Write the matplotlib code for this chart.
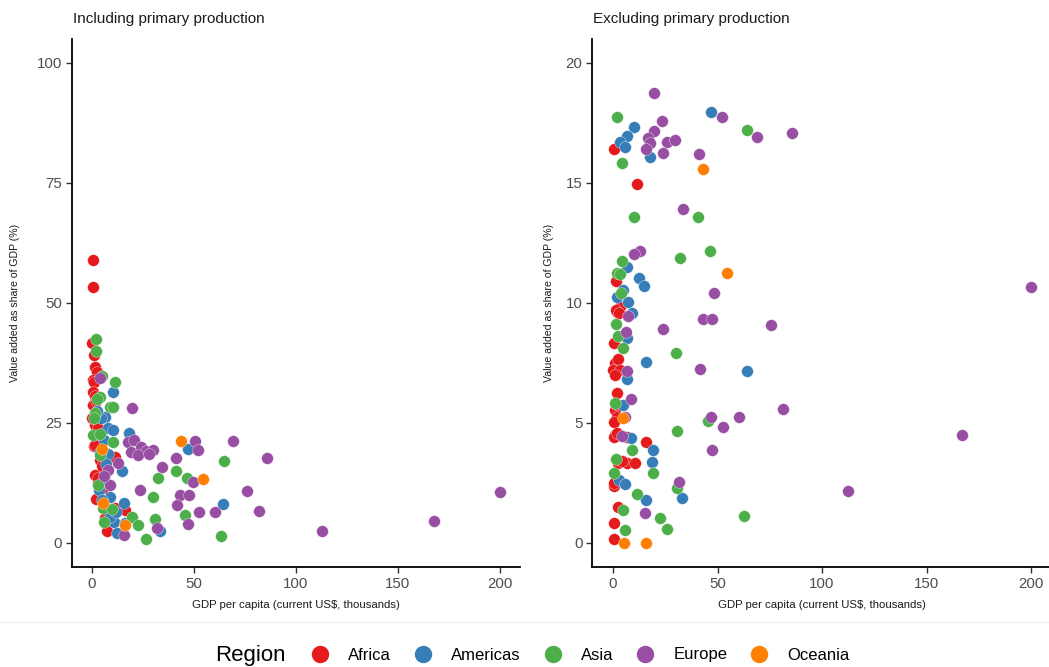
import matplotlib
matplotlib.use("Agg")
import matplotlib.pyplot as plt
from matplotlib.lines import Line2D

plt.rcParams['font.family'] = ['Liberation Sans', 'DejaVu Sans']

regions = ["Africa", "Americas", "Asia", "Europe", "Oceania"]
colors = {"Africa": "#E41A1C", "Americas": "#377EB8", "Asia": "#4DAF4A",
          "Europe": "#984EA3", "Oceania": "#FF7F00"}

# ---- Panel 1: including primary production ----
afr_x1 = [0.6, 0.6, -0.2, 1.1, 1.5, 2.3, 0.6, 1.1, 0.6, 1.5, 0.6, 2.3, 1.5, 3.0, 1.0, 3.9,
          1.5, 3.9, 11.3, 1.5, 2.8, 5.5, 1.8, 7.2, 7.5, 11.3, 16.2, 6.4, 0.2, 4.8, 2.0, 3.0]
afr_y1 = [59.0, 53.3, 41.6, 39.2, 36.6, 35.7, 34.0, 33.6, 31.5, 30.6, 28.7, 25.3, 24.6, 24.0, 20.3, 20.1,
          20.4, 17.3, 18.0, 14.2, 12.8, 11.4, 9.1, 5.5, 2.5, 7.2, 6.9, 5.2, 26.0, 16.0, 29.5, 13.5]
ame_x1 = [10.4, 6.4, 8.0, 10.4, 18.1, 46.9, 8.0, 14.6, 5.9, 8.8, 15.8, 64.4, 10.8, 12.1, 16.2,
          33.3, 4.5, 6.0, 7.0, 9.0, 3.5, 2.5, 5.0, 12.0, 4.0]
ame_y1 = [31.4, 26.3, 23.9, 23.5, 23.0, 19.5, 18.5, 14.9, 13.1, 9.6, 8.3, 8.1, 4.4, 2.0, 4.1,
          2.4, 26.0, 21.5, 16.5, 5.5, 11.0, 27.5, 9.0, 6.5, 19.0]
asi_x1 = [2.0, 1.8, 4.8, 11.3, 3.9, 8.8, 10.4, 1.5, 0.6, 3.9, 10.4, 4.0, 64.7, 41.2, 32.2, 46.4,
          30.0, 5.5, 9.7, 30.9, 45.6, 19.8, 22.7, 6.0, 26.3, 63.2, 2.5, 1.0, 3.0]
asi_y1 = [42.4, 39.9, 34.7, 33.6, 30.5, 28.4, 28.4, 27.0, 22.5, 22.8, 21.1, 18.3, 17.1, 14.9, 13.5, 13.5,
          9.65, 7.2, 7.0, 5.1, 5.8, 5.5, 3.75, 4.4, 0.8, 1.5, 30.0, 26.0, 12.0]
eur_x1 = [3.9, 19.8, 17.6, 20.5, 19.0, 24.0, 26.5, 30.0, 22.5, 28.0, 50.5, 69.3, 52.1, 85.6, 41.2,
          34.2, 12.9, 8.0, 49.3, 8.8, 23.5, 43.1, 47.5, 76.1, 41.5, 52.5, 60.3, 82.0, 47.2, 31.7,
          15.8, 112.7, 167.6, 200.0, 6.0]
eur_y1 = [34.4, 28.1, 21.0, 21.4, 19.0, 20.0, 19.2, 19.4, 18.3, 18.5, 21.25, 21.3, 19.4, 17.8, 17.8,
          15.9, 16.6, 15.2, 12.8, 12.1, 11.0, 10.0, 10.1, 10.9, 7.9, 6.4, 6.5, 6.6, 4.0, 3.1,
          1.7, 2.5, 4.6, 10.6, 14.0]
oce_x1 = [43.6, 54.5, 5.0, 5.5, 16.2]
oce_y1 = [21.3, 13.3, 19.6, 8.3, 3.8]

# ---- Panel 2: excluding primary production ----
afr_x2 = [0.5, 11.3, 1.3, 1.8, 3.3, 0.5, 1.0, 2.5, 0.2, 3.3, 1.8, 1.0, 1.8, 0.6, 1.0, 6.5,
          15.8, 2.5, 6.5, 10.5, 4.3, 0.5, 2.5, 0.5, 0.6, 1.5, 0.3, 0.8, 2.0, 1.2, 2.8, 0.5]
afr_y2 = [16.42, 14.95, 10.92, 9.64, 9.85, 8.35, 7.51, 7.67, 7.21, 7.2, 6.24, 5.54, 5.27, 5.06, 4.5, 4.43,
          4.22, 3.32, 3.32, 3.32, 3.4, 2.39, 1.49, 0.82, 0.15, 9.7, 4.4, 7.0, 4.6, 5.8, 9.6, 2.5]
ame_x2 = [46.7, 10.0, 6.5, 3.3, 5.7, 17.7, 6.5, 12.6, 14.8, 4.9, 2.1, 7.3, 8.9, 6.5, 15.8, 64.3,
          6.5, 4.9, 8.5, 19.3, 18.5, 3.0, 5.7, 32.9, 15.8]
ame_y2 = [17.95, 17.35, 16.96, 16.72, 16.49, 16.07, 11.49, 11.03, 10.72, 10.54, 10.26, 10.05, 9.57, 8.53,
          7.53, 7.15, 6.83, 5.75, 4.36, 3.88, 3.39, 2.62, 2.44, 1.86, 1.79]
asi_x2 = [2.1, 64.3, 4.5, 10.2, 40.8, 46.4, 32.1, 4.5, 1.8, 3.3, 3.8, 1.4, 2.5, 4.9, 30.0, 1.0,
          45.6, 30.5, 8.9, 1.4, 0.5, 19.3, 30.8, 11.3, 4.9, 62.8, 22.5, 5.7, 26.0]
asi_y2 = [17.76, 17.2, 15.82, 13.6, 13.6, 12.18, 11.86, 11.74, 11.24, 11.2, 10.4, 9.11, 8.63, 8.14, 7.9,
          5.85, 5.1, 4.67, 3.88, 3.49, 2.93, 2.9, 2.31, 2.03, 1.38, 1.13, 1.03, 0.54, 0.57]
eur_x2 = [19.6, 52.3, 23.6, 19.6, 85.8, 69.0, 16.9, 17.7, 25.7, 29.7, 15.8, 24.1, 41.1, 33.6, 12.9,
          10.0, 48.5, 200.0, 75.6, 7.3, 42.9, 47.2, 23.8, 6.2, 6.5, 41.6, 8.6, 5.7, 46.7, 60.3,
          52.5, 81.3, 4.2, 47.2, 31.6, 15.3, 112.4, 167.0]
eur_y2 = [18.74, 17.76, 17.57, 17.18, 17.1, 16.9, 16.86, 16.68, 16.72, 16.8, 16.4, 16.26, 16.2, 13.9, 12.17,
          12.03, 10.4, 10.67, 9.08, 9.46, 9.32, 9.33, 8.92, 8.78, 7.18, 7.25, 5.99, 5.26, 5.26, 5.26,
          4.82, 5.6, 4.46, 3.88, 2.53, 1.24, 2.17, 4.5]
oce_x2 = [42.9, 54.4, 4.9, 5.4, 15.8]
oce_y2 = [15.57, 11.26, 5.2, 0.0, 0.0]

panel1 = {"Africa": (afr_x1, afr_y1), "Americas": (ame_x1, ame_y1), "Asia": (asi_x1, asi_y1),
          "Europe": (eur_x1, eur_y1), "Oceania": (oce_x1, oce_y1)}
panel2 = {"Africa": (afr_x2, afr_y2), "Americas": (ame_x2, ame_y2), "Asia": (asi_x2, asi_y2),
          "Europe": (eur_x2, eur_y2), "Oceania": (oce_x2, oce_y2)}

W, H = 1049, 667
fig = plt.figure(figsize=(W / 100, H / 100), dpi=100)

ax1 = fig.add_axes([71.6 / W, 1 - 567 / H, 448.8 / W, 528 / H])
ax2 = fig.add_axes([592.1 / W, 1 - 567 / H, 459.9 / W, 528 / H])

def style(ax, yticks, ylim, ylabelpad):
    ax.set_xlim(-10, 210)
    ax.set_ylim(*ylim)
    ax.set_xticks([0, 50, 100, 150, 200])
    ax.set_yticks(yticks)
    for s in ["top", "right"]:
        ax.spines[s].set_visible(False)
    for s in ["left", "bottom"]:
        ax.spines[s].set_linewidth(1.3)
        ax.spines[s].set_color("black")
    ax.tick_params(axis="both", length=4, width=1.0, color="#333333",
                   labelsize=10.8, labelcolor="#4D4D4D", pad=3)
    ax.set_xlabel("GDP per capita (current US$, thousands)", fontsize=8.2, color="#1a1a1a", labelpad=7)
    ax.set_ylabel("Value added as share of GDP (%)", fontsize=7.6, color="#1a1a1a", labelpad=ylabelpad)

for ax, data in [(ax1, panel1), (ax2, panel2)]:
    for r in regions:
        xs, ys = data[r]
        ax.scatter(xs, ys, s=72, color=colors[r], edgecolors="white", linewidths=0.25, zorder=3)

style(ax1, [0, 25, 50, 75, 100], (-5, 105), 12)
style(ax2, [0, 5, 10, 15, 20], (-1, 21), 8)

fig.text(73 / W, 1 - 19 / H, "Including primary production", fontsize=11, va="center", ha="left", color="#1a1a1a")
fig.text(593 / W, 1 - 19 / H, "Excluding primary production", fontsize=11, va="center", ha="left", color="#1a1a1a")

# separator line
fig.add_artist(Line2D([0, 1], [1 - 622 / H, 1 - 622 / H], transform=fig.transFigure, color="#f2f2f2", lw=1))

# legend
handles = [Line2D([], [], marker="o", linestyle="", markersize=11.5, markerfacecolor=colors[r],
                  markeredgecolor=colors[r], label=r) for r in regions]
fig.legend(handles=handles, loc="center left", bbox_to_anchor=(312 / W, 1 - 655 / H), ncol=5,
           frameon=False, fontsize=12, handlelength=1.0, handletextpad=1.18, columnspacing=1.42,
           borderpad=0, borderaxespad=0)
fig.text(215 / W, 1 - 656 / H, "Region", fontsize=16, va="center", ha="left", color="black")

fig.savefig("out.png", dpi=100, facecolor="white")
